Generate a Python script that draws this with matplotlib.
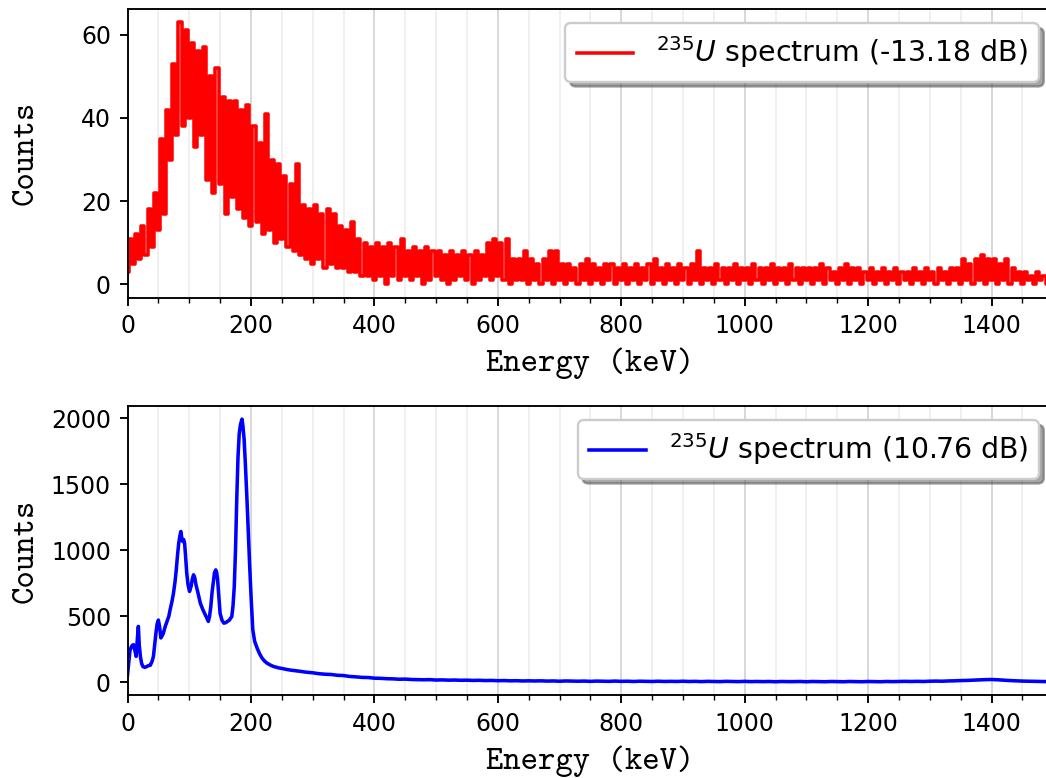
import numpy as np
import matplotlib
matplotlib.use("Agg")
import matplotlib.pyplot as plt
from matplotlib.ticker import MultipleLocator

# top spectrum: counts per 5 keV channel (0 .. 1490 keV)
bin_kev = 5
red_counts = [
    3, 11, 5, 12, 6, 14, 7, 18, 9, 22, 13, 35, 17, 42, 30, 53, 36, 63, 38, 61,
    40, 58, 33, 56, 36, 57, 25, 50, 22, 52, 24, 45, 17, 44, 21, 44, 18, 42, 16, 43,
    14, 38, 15, 34, 12, 41, 13, 30, 10, 29, 11, 26, 9, 24, 8, 29, 7, 19, 6, 18,
    5, 19, 6, 17, 4, 18, 5, 17, 4, 14, 4, 13, 3, 15, 3, 11, 2, 10, 2, 9,
    1, 10, 2, 9, 0, 10, 2, 9, 1, 11, 2, 8, 1, 9, 2, 8, 0, 9, 1, 8,
    2, 8, 1, 7, 0, 8, 1, 7, 2, 8, 1, 7, 0, 8, 1, 7, 2, 10, 1, 11,
    2, 10, 1, 11, 0, 6, 1, 6, 1, 8, 0, 6, 1, 5, 0, 6, 1, 8, 0, 8,
    1, 5, 0, 5, 1, 4, 0, 5, 1, 6, 0, 5, 1, 4, 0, 5, 1, 5, 0, 4,
    1, 5, 0, 4, 1, 5, 0, 4, 1, 5, 0, 6, 1, 4, 0, 5, 1, 4, 0, 5,
    1, 4, 0, 5, 1, 8, 0, 4, 1, 4, 0, 5, 1, 4, 0, 4, 1, 5, 0, 4,
    1, 4, 0, 5, 1, 4, 0, 4, 1, 5, 0, 4, 1, 4, 0, 5, 1, 4, 0, 4,
    1, 4, 0, 4, 1, 5, 0, 4, 1, 3, 0, 4, 1, 5, 0, 4, 1, 4, 0, 3,
    1, 4, 0, 3, 1, 4, 0, 3, 1, 4, 0, 3, 1, 3, 0, 4, 1, 3, 0, 4,
    1, 3, 0, 4, 1, 3, 0, 4, 1, 4, 0, 6, 1, 5, 0, 6, 1, 7, 0, 6,
    1, 6, 0, 5, 1, 6, 0, 4, 1, 3, 0, 3, 1, 2, 0, 3, 1, 2, 0,
]
red_energy = np.arange(len(red_counts)) * bin_kev

# bottom spectrum: energy (keV) and counts
blue_energy = [
    0, 2, 4, 6, 8, 10, 12, 14, 16, 17.6, 19, 21, 23, 25, 28, 31, 34, 37, 40, 42,
    44, 46, 48, 50, 52, 54, 56, 58, 61, 64, 67, 69, 72, 74.5, 77, 79, 81, 83, 85, 86.4,
    88, 89.5, 91, 92.5, 94, 96, 98, 100.5, 103, 105, 107, 109, 111, 114, 118, 122, 126, 129, 131, 133,
    135, 137, 139.5, 141, 143, 144.5, 146, 148, 150, 153, 156, 159, 162, 165, 169, 171, 173, 175, 177, 179,
    181, 183, 185.5, 187, 189, 191, 193.6, 196, 198, 200.5, 203, 206, 210, 214, 218, 222, 226, 232, 237, 245,
    252, 259, 266, 273,
    280, 290, 300, 310, 320, 330, 340, 350, 360, 370,
    380, 390, 400, 410, 420, 430, 440, 450, 460, 470,
    480, 490, 500, 510, 520, 530, 540, 550, 560, 570,
    580, 590, 600, 610, 620, 630, 640, 650, 660, 670,
    680, 690, 700, 710, 720, 730, 740, 750, 760, 770,
    780, 790, 800, 810, 820, 830, 840, 850, 860, 870,
    880, 890, 900, 910, 920, 930, 940, 950, 960, 970,
    980, 990, 1000, 1010, 1020, 1030, 1040, 1050, 1060, 1070,
    1080, 1090, 1100, 1110, 1120, 1130, 1140, 1150, 1160, 1170,
    1180, 1190, 1200, 1210, 1220, 1230, 1240, 1250, 1260, 1270,
    1280, 1290, 1300, 1310, 1320, 1330, 1340, 1350, 1360, 1370,
    1380, 1390, 1400, 1410, 1420, 1430, 1440, 1450, 1460, 1470,
    1480, 1490,
]
blue_counts = [
    55, 150, 240, 265, 280, 283, 240, 195, 330, 422, 280, 190, 140, 118, 112, 118, 125, 128, 160, 195,
    280, 370, 440, 470, 420, 335, 350, 370, 420, 460, 500, 548, 610, 674, 760, 850, 960, 1052, 1110, 1141,
    1090, 1065, 1080, 1052, 960, 825, 740, 687, 725, 780, 813, 790, 737, 680, 598, 550, 510, 480, 460, 500,
    573, 680, 775, 830, 850, 830, 775, 650, 522, 470, 447, 450, 460, 470, 497, 580, 725, 1000, 1381, 1700,
    1880, 1950, 1992, 1940, 1836, 1650, 1381, 1100, 876, 620, 397, 310, 258, 215, 182, 160, 144, 128, 118, 108,
    102, 95, 90, 86,
    82, 75, 71, 64, 60, 58, 52, 50, 43, 40,
    36, 35, 30, 29, 26, 25, 22, 23, 20, 19,
    18, 19, 16, 17, 15, 16, 14, 15, 13, 14,
    12, 13, 11, 12, 10, 11, 9, 10, 9, 10,
    8, 9, 7, 9, 8, 7, 8, 6, 8, 7,
    6, 8, 6, 7, 5, 7, 6, 5, 7, 5,
    6, 5, 7, 5, 6, 4, 6, 5, 4, 6,
    5, 4, 6, 4, 5, 4, 5, 3, 5, 4,
    4, 5, 3, 5, 4, 3, 5, 4, 3, 5,
    4, 3, 5, 4, 3, 5, 4, 5, 6, 5,
    6, 5, 7, 8, 7, 9, 10, 12, 13, 15,
    17, 19, 20, 18, 15, 12, 10, 8, 7, 6,
    5, 4,
]

labels = [r'$^{235}U$ spectrum (-13.18 dB)', r'$^{235}U$ spectrum (10.76 dB)']

DPI = 170
fig = plt.figure(figsize=(1046 / DPI, 778 / DPI), dpi=DPI)
ax1 = fig.add_axes([0.1219, 0.6176, 0.885, 0.3708])
ax2 = fig.add_axes([0.1219, 0.1063, 0.885, 0.3718])

ax1.plot(red_energy, red_counts, color='red', lw=1.5, drawstyle='steps-mid', label=labels[0])
ax2.plot(blue_energy, blue_counts, color='blue', lw=1.5, label=labels[1])
ax1.set_ylim(-3.15, 66.15)
ax1.set_yticks([0, 20, 40, 60])
ax2.set_ylim(-99.6, 2091)
ax2.set_yticks([0, 500, 1000, 1500, 2000])

for ax in (ax1, ax2):
    ax.set_xlim(0, 1500)
    ax.set_xticks(range(0, 1401, 200))
    ax.xaxis.set_minor_locator(MultipleLocator(50))
    ax.grid(True, which='major', axis='x', color='#b0b0b0', alpha=0.5)
    ax.grid(True, which='minor', axis='x', color='#b0b0b0', alpha=0.2)
    ax.set_axisbelow(True)
    ax.tick_params(labelsize=10)
    ax.set_xlabel('Energy (keV)', fontfamily='cmtt10', fontsize=14)
    ax.set_ylabel('Counts', fontfamily='cmtt10', fontsize=14)
    # both y labels sit in the same column, as in the original
    ax.yaxis.set_label_coords(-0.094, 0.5)
    ax.legend(loc='upper right', fontsize=12, shadow=True, fancybox=True, framealpha=1)

fig.savefig('out.png', dpi=DPI)
